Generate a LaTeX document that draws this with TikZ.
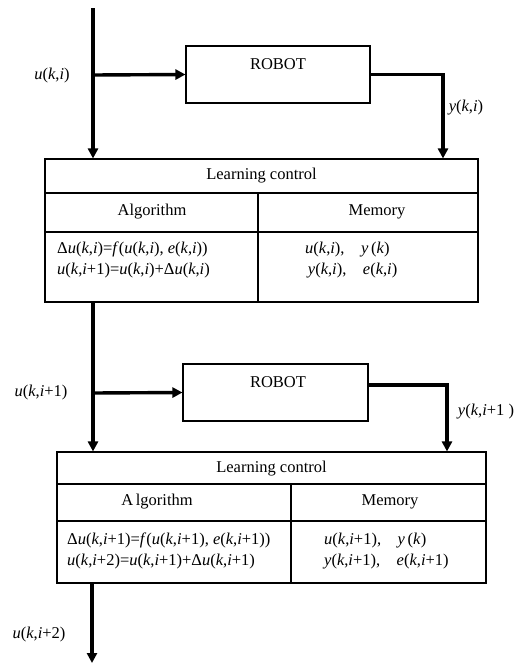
\documentclass[tikz,border=0pt]{standalone}
\usepackage{fontspec}
\setmainfont{Liberation Serif}
\usetikzlibrary{arrows.meta}
\newcommand\vi[1]{\textit{#1}}
\begin{document}
\begin{tikzpicture}[x=1pt,y=-1pt,
  every node/.style={font=\fontsize{16.5}{20.5}\selectfont, inner sep=0pt},
  flow/.style={line width=3.4pt, -{Triangle[length=10pt,width=10pt]}},
  box/.style={draw, line width=1.1pt, rectangle, fill=white},
  grid/.style={line width=1.1pt}]
\useasboundingbox (0,0) rectangle (520,664);
% ---------- stage 1 ----------
\node[box, minimum width=184pt, minimum height=57pt] (robotA) at (278,74.5) {};
\node (robotAt) at (278,64) {ROBOT};
\node[box, minimum width=433pt, minimum height=143pt] (lcA) at (261.5,230.5) {};
\draw[grid] (lcA.west |- 0,193) -- (lcA.east |- 0,193);
\draw[grid] (lcA.west |- 0,232) -- (lcA.east |- 0,232);
\draw[grid] (258,193) -- (258,302);
\node (titA) at (261.5,176) {Learning control};
\node (algA) at (152,212) {Algorithm};
\node (memA) at (377,212) {Memory};
\node[anchor=west, align=left] (eqA) at (57,260)
 {Δ\vi{u}(\vi{k},\vi{i})=\vi{f}(\vi{u}(\vi{k},\vi{i}), \vi{e}(\vi{k},\vi{i}))\\
  \vi{u}(\vi{k},\vi{i}+1)=\vi{u}(\vi{k},\vi{i})+Δ\vi{u}(\vi{k},\vi{i})};
\node[anchor=west, align=left] (mmA) at (305,260)
 {\vi{u}(\vi{k},\vi{i}),\quad\vi{y}\,(\vi{k})\\
  \,\vi{y}(\vi{k},\vi{i}),\quad\vi{e}(\vi{k},\vi{i})};
\coordinate (sA) at (93,8);
\coordinate (jA) at (93,75);
\coordinate (oA) at (443,0);
\draw[flow] (sA) -- (sA |- lcA.north);
\draw[flow] (jA) -- (robotA.west);
\draw[flow] (robotA.east) -| (oA |- lcA.north);
\node (uA) at (52,76) {\vi{u}(\vi{k},\vi{i})};
\node (yA) at (466,108) {\vi{y}(\vi{k},\vi{i})};
% ---------- stage 2 ----------
\node[box, minimum width=185pt, minimum height=57pt] (robotB) at (275.5,392.5) {};
\node (robotBt) at (278,382) {ROBOT};
\node[box, minimum width=429pt, minimum height=131pt] (lcB) at (271.5,517.5) {};
\draw[grid] (lcB.west |- 0,484) -- (lcB.east |- 0,484);
\draw[grid] (lcB.west |- 0,521) -- (lcB.east |- 0,521);
\draw[grid] (291,484) -- (291,583);
\node (titB) at (271.5,469) {Learning control};
\node (algB) at (157,502) {A\,lgorithm};
\node (memB) at (390,502) {Memory};
\node[anchor=west, align=left] (eqB) at (67,551)
 {Δ\vi{u}(\vi{k},\vi{i}+1)=\vi{f}(\vi{u}(\vi{k},\vi{i}+1), \vi{e}(\vi{k},\vi{i}+1))\\
  \vi{u}(\vi{k},\vi{i}+2)=\vi{u}(\vi{k},\vi{i}+1)+Δ\vi{u}(\vi{k},\vi{i}+1)};
\node[anchor=west, align=left] (mmB) at (324,551)
 {\vi{u}(\vi{k},\vi{i}+1),\quad\vi{y}\,(\vi{k})\\
  \vi{y}(\vi{k},\vi{i}+1),\quad\vi{e}(\vi{k},\vi{i}+1)};
\coordinate (sB) at (93,0);
\coordinate (jB) at (93,393);
\coordinate (oB) at (447,0);
\draw[flow] (sB |- lcA.south) -- (sB |- lcB.north);
\draw[flow] (jB) -- (robotB.west);
\draw[flow] (robotB.east |- 0,385) -| (oB |- lcB.north);
\node (uB) at (41,393) {\vi{u}(\vi{k},\vi{i}+1)};
\node (yB) at (486,412) {\vi{y}(\vi{k},\vi{i}+1 )};
% ---------- output ----------
\coordinate (sC) at (92,0);
\coordinate (eC) at (92,663);
\draw[flow] (sC |- lcB.south) -- (eC);
\node (uC) at (39,635) {\vi{u}(\vi{k},\vi{i}+2)};
\end{tikzpicture}
\end{document}
